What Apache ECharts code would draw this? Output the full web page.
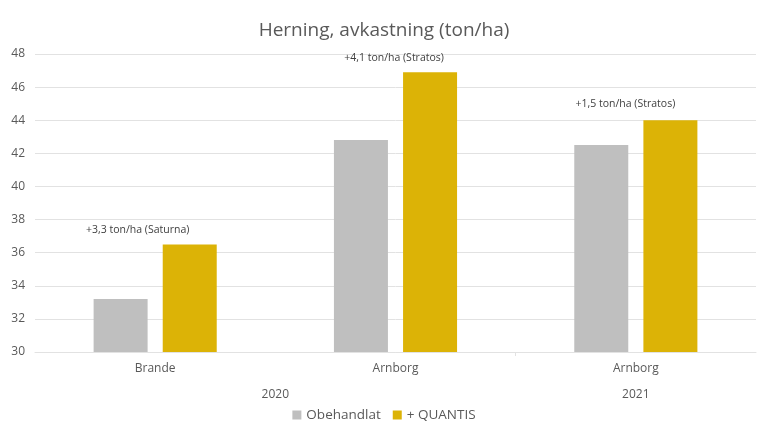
<!DOCTYPE html>
<html>
<head>
<meta charset="utf-8">
<script src="https://cdn.jsdelivr.net/npm/echarts@6/dist/echarts.min.js"></script>
<style>html,body{margin:0;padding:0;background:#fff}#c{width:768px;height:431px}</style>
</head>
<body>
<div id="c"></div>
<script>
const categories = ['Brande', 'Arnborg', 'Arnborg'];
const years = ['2020', '2020', '2021'];
const untreated = [33.2, 42.8, 42.5];
const quantis = [36.5, 46.9, 44.0];
const annotations = ['+3,3 ton/ha (Saturna)', '+4,1 ton/ha (Stratos)', '+1,5 ton/ha (Stratos)'];
const yTicks = [30, 32, 34, 36, 38, 40, 42, 44, 46, 48];

// group years into spans
const groups = [];
years.forEach((y, i) => {
  const g = groups[groups.length - 1];
  if (g && g.name === y) g.end = i + 1; else groups.push({ name: y, start: i, end: i + 1 });
});
const groupCenters = groups.map(g => (g.start + g.end) / 2);
const groupBounds = groups.slice(0, -1).map(g => g.end);

const annOffsets = [[-52, -4], [-36, -4], [-45, -6]];
const font = '"Open Sans", "Noto Sans", sans-serif';
const chart = echarts.init(document.getElementById('c'));
chart.setOption({
  animation: false,
  textStyle: { fontFamily: font },
  title: {
    text: 'Herning, avkastning (ton/ha)',
    left: 'center', top: 16,
    textStyle: { fontFamily: font, fontSize: 19, fontWeight: 'normal', color: '#595959' }
  },
  legend: {
    bottom: 4, left: 'center',
    icon: 'rect', itemWidth: 9, itemHeight: 9, itemGap: 12,
    textStyle: { fontFamily: font, fontSize: 13.5, color: '#595959' },
    data: ['Obehandlat', '+ QUANTIS']
  },
  grid: { left: 35, right: 12, top: 54, bottom: 79 },
  xAxis: [{
    type: 'category', data: categories,
    axisLine: { lineStyle: { color: '#e2e2e2' } },
    axisTick: { show: false },
    axisLabel: { color: '#595959', fontSize: 12, margin: 11, fontFamily: font }
  }, {
    type: 'value', min: 0, max: categories.length, position: 'bottom',
    axisLine: { show: false },
    splitLine: { show: false },
    axisTick: { show: true, customValues: groupBounds, length: 4, lineStyle: { color: '#e2e2e2' } },
    axisLabel: {
      customValues: groupCenters, color: '#595959', fontSize: 12, margin: 37, fontFamily: font,
      formatter: v => { const i = groupCenters.indexOf(v); return i >= 0 ? groups[i].name : ''; }
    }
  }],
  yAxis: {
    type: 'value', min: yTicks[0], max: yTicks[yTicks.length - 1], interval: 2,
    axisLine: { show: false }, axisTick: { show: false },
    axisLabel: { color: '#595959', fontSize: 12, margin: 10, fontFamily: font },
    splitLine: { lineStyle: { color: '#e2e2e2' } }
  },
  series: [{
    name: 'Obehandlat', type: 'bar', data: untreated,
    barWidth: 54, barGap: '28%',
    itemStyle: { color: '#bfbfbf' }
  }, {
    name: '+ QUANTIS', type: 'bar', data: quantis.map((v, i) => ({
      value: v,
      label: {
        show: true, position: 'top', offset: annOffsets[i],
        formatter: annotations[i], color: '#404040', fontSize: 10.5, fontFamily: font
      }
    })),
    barWidth: 54,
    itemStyle: { color: '#dcb306' }
  }]
});
</script>
</body>
</html>
